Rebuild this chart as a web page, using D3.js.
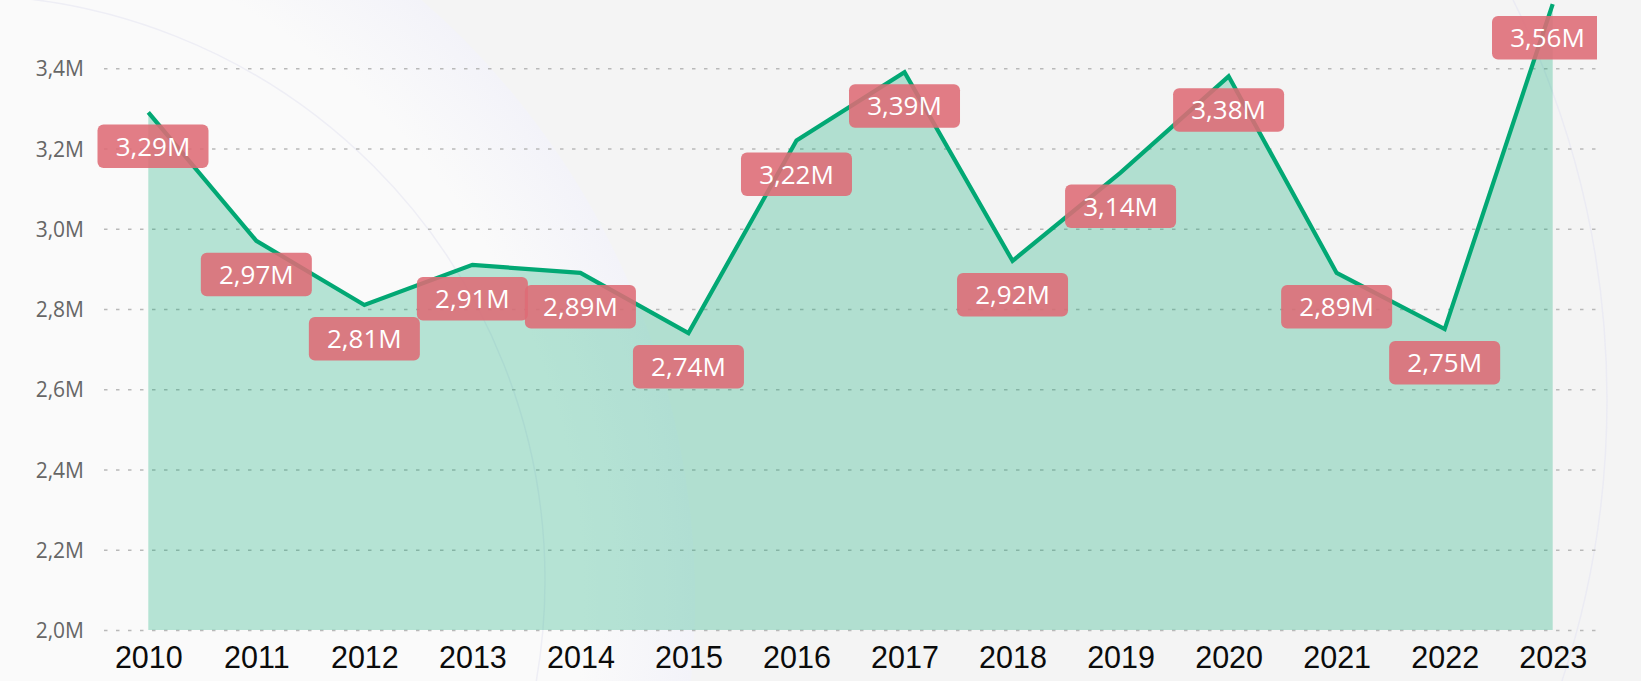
<!DOCTYPE html>
<html>
<head>
<meta charset="utf-8">
<script src="https://cdn.jsdelivr.net/npm/d3@7"></script>
<style>
  html, body { margin: 0; padding: 0; background: #f4f4f4; }
  svg { display: block; }
</style>
</head>
<body>
<svg id="chart" width="1641" height="681"></svg>
<script>
// Yearly totals, in millions
const years = ["2010","2011","2012","2013","2014","2015","2016","2017","2018","2019","2020","2021","2022","2023"];
const values = [3.29, 2.97, 2.81, 2.91, 2.89, 2.74, 3.22, 3.39, 2.92, 3.14, 3.38, 2.89, 2.75, 3.56];
const yTicks = [2.0, 2.2, 2.4, 2.6, 2.8, 3.0, 3.2, 3.4];

const W = 1641, H = 681;
const plot = { left: 97.5, right: 1597, gridLeft: 104 };
const lineColor = "#02a874";
const labelFill = "#de6b75";

const loc = d3.formatLocale({ decimal: ",", thousands: ".", grouping: [3], currency: ["", "€"] });
const fmtTick = v => loc.format(".1f")(v) + "M";
const fmtLabel = v => loc.format(".2f")(v) + "M";

const svg = d3.select("#chart");
const defs = svg.append("defs");

// Background: soft light disc on the left, faint outline rings
const rg = defs.append("radialGradient").attr("id", "disc")
  .attr("gradientUnits", "userSpaceOnUse").attr("cx", -100).attr("cy", 600).attr("r", 795);
rg.append("stop").attr("offset", 0).attr("stop-color", "#fafafa");
rg.append("stop").attr("offset", 0.86).attr("stop-color", "#fafafa");
rg.append("stop").attr("offset", 1).attr("stop-color", "#f3f3f9");

svg.append("rect").attr("width", W).attr("height", H).attr("fill", "#f4f4f4");
svg.append("circle").attr("cx", -100).attr("cy", 600).attr("r", 795).attr("fill", "url(#disc)");
svg.append("circle").attr("cx", -40).attr("cy", 580).attr("r", 585)
  .attr("fill", "none").attr("stroke", "#eeeef5").attr("stroke-width", 1.5);
svg.append("circle").attr("cx", 709).attr("cy", 400).attr("r", 898)
  .attr("fill", "none").attr("stroke", "#ebebf3").attr("stroke-width", 1.5);

const x = d3.scalePoint().domain(years).range([148.3, 1552.7]);
const y = d3.scaleLinear().domain([2.0, 3.4]).range([630, 68.3]);

// Horizontal dotted gridlines
const yAxis = d3.axisLeft(y).tickValues(yTicks).tickFormat(fmtTick)
  .tickSize(-(plot.right - plot.gridLeft)).tickPadding(20);
const gy = svg.append("g").attr("transform", `translate(${plot.gridLeft},0)`).call(yAxis);
gy.select(".domain").remove();
gy.selectAll(".tick line")
  .attr("stroke", "#b9b9b9").attr("stroke-width", 1.6).attr("stroke-dasharray", "3.5,8.5");
gy.selectAll(".tick text")
  .attr("x", 84 - plot.gridLeft)
  .attr("dy", "0.36em")
  .attr("fill", "#666666")
  .style("font-family", "'Segoe UI', 'Open Sans', sans-serif")
  .style("font-size", "21px");

// Area and line
const pts = years.map((yr, i) => ({ yr, v: values[i] }));
const area = d3.area().x(d => x(d.yr)).y0(y(2.0)).y1(d => y(d.v));
const line = d3.line().x(d => x(d.yr)).y(d => y(d.v));

svg.append("path").datum(pts).attr("d", area).attr("fill", lineColor).attr("fill-opacity", 0.28);
svg.append("path").datum(pts).attr("d", line)
  .attr("fill", "none").attr("stroke", lineColor).attr("stroke-width", 4.2)
  .attr("stroke-linejoin", "miter").attr("stroke-linecap", "butt");

// X axis year labels
const xAxis = d3.axisBottom(x).tickSize(0).tickPadding(0);
const gx = svg.append("g").attr("transform", `translate(0,${y(2.0)})`).call(xAxis);
gx.select(".domain").remove();
gx.selectAll(".tick text")
  .attr("y", 38).attr("dy", 0)
  .attr("fill", "#0b0b0b")
  .style("font-family", "'Liberation Sans', Arial, sans-serif")
  .style("font-size", "30.5px");

// Value labels: rounded boxes under each point
defs.append("clipPath").attr("id", "plotClip")
  .append("rect").attr("x", 0).attr("y", 0).attr("width", plot.right).attr("height", H);
const boxW = 111, boxH = 43.5, gap = 12;
const labelMin = plot.left, labelMax = 1603;
const labels = svg.append("g").attr("clip-path", "url(#plotClip)")
  .selectAll("g").data(pts).join("g")
  .attr("transform", d => {
    const bx = Math.min(Math.max(x(d.yr) - boxW / 2, labelMin), labelMax - boxW);
    const by = y(d.v) + gap;
    return `translate(${bx},${by})`;
  });
labels.append("rect")
  .attr("width", boxW).attr("height", boxH).attr("rx", 6)
  .attr("fill", labelFill).attr("fill-opacity", 0.88);
labels.append("text")
  .attr("x", boxW / 2).attr("y", boxH / 2).attr("dy", "0.36em")
  .attr("text-anchor", "middle")
  .attr("fill", "#ffffff")
  .style("font-family", "'Segoe UI', 'Open Sans', sans-serif")
  .style("font-size", "26px")
  .text(d => fmtLabel(d.v));
</script>
</body>
</html>
